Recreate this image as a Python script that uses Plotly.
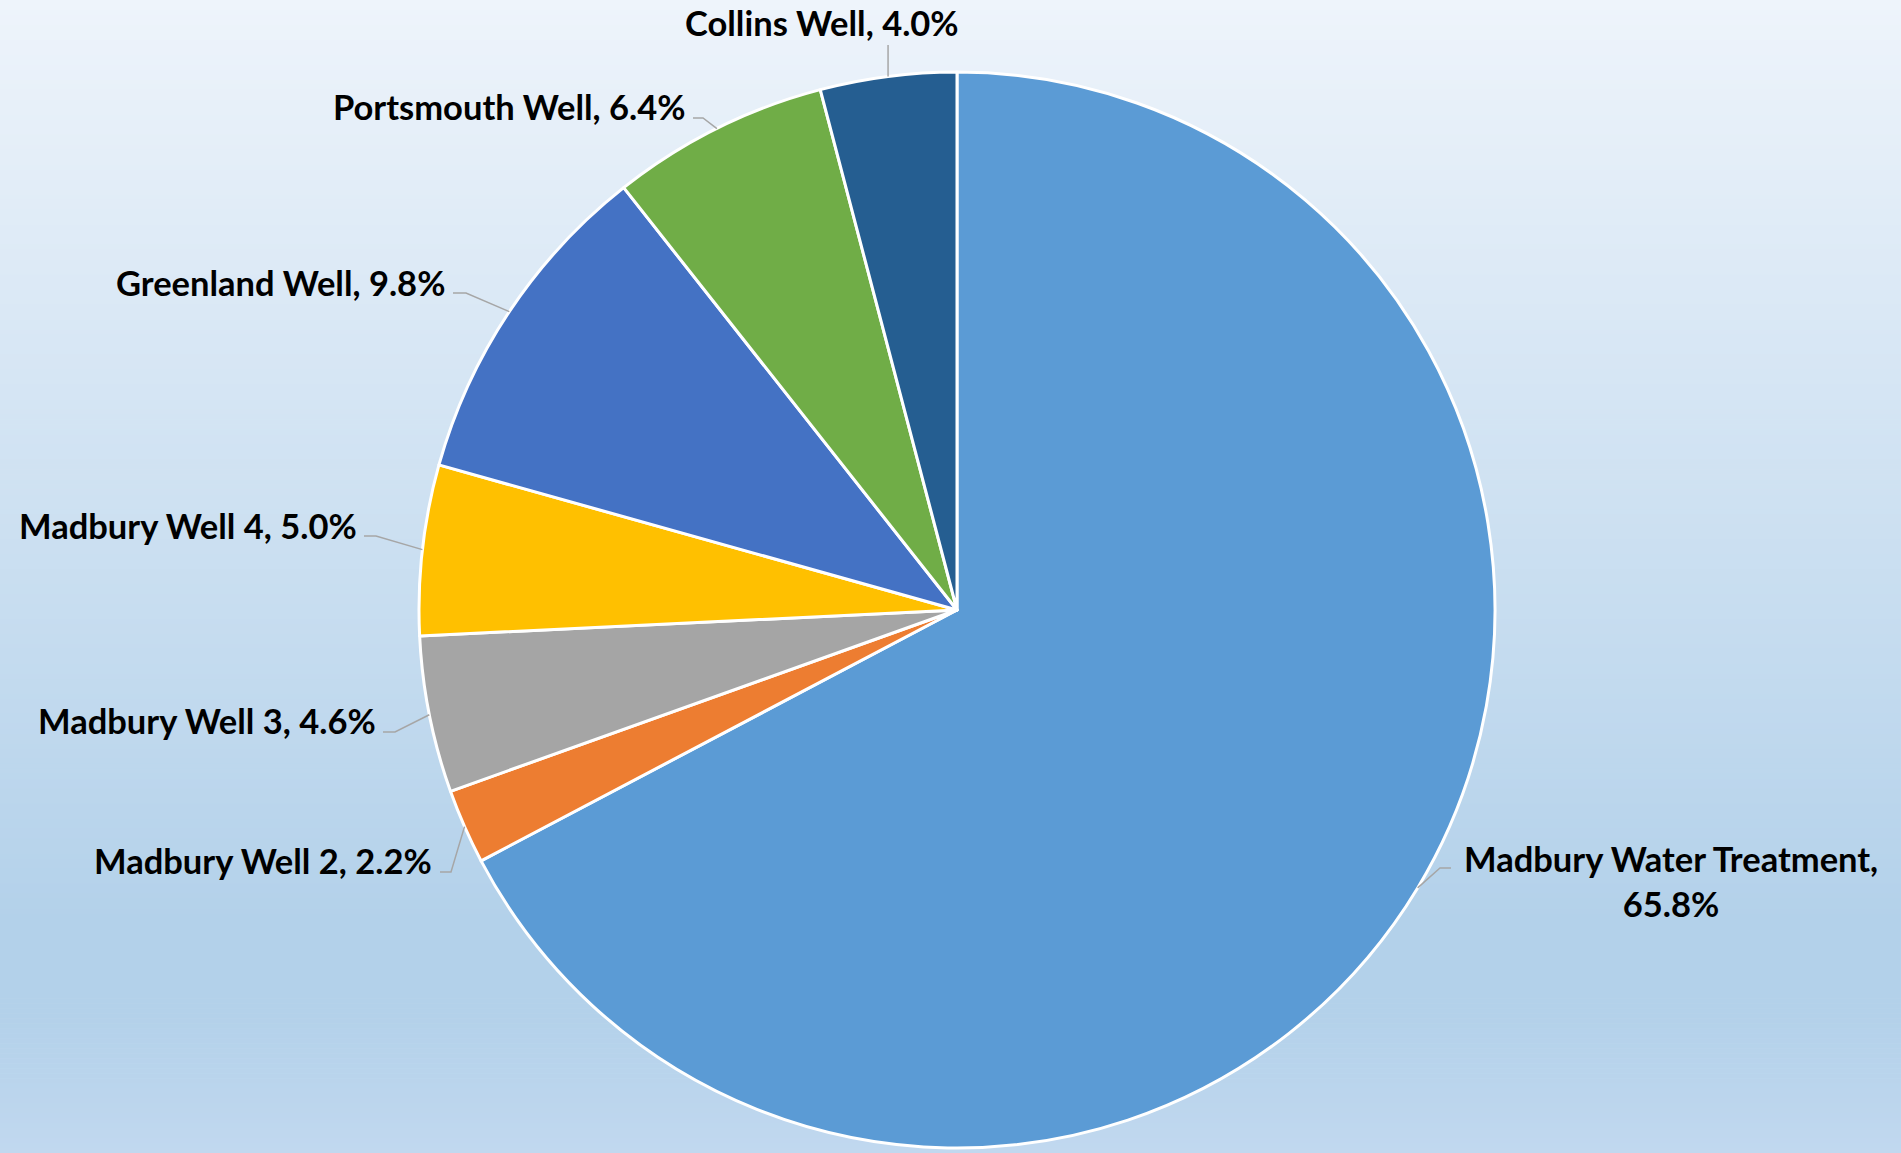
import math
import plotly.graph_objects as go

# ---- data ----
labels = ["Madbury Water Treatment", "Madbury Well 2", "Madbury Well 3", "Madbury Well 4",
          "Greenland Well", "Portsmouth Well", "Collins Well"]
values = [65.8, 2.2, 4.6, 5.0, 9.8, 6.4, 4.0]
colors = ["#5B9BD5", "#ED7D31", "#A5A5A5", "#FFC000", "#4472C4", "#70AD47", "#255E91"]

W, H = 1901, 1153
CX, CY, R = 957.0, 610.0, 538.0


def px(x):
    return x / W


def py(y):
    return 1 - y / H


fig = go.Figure()
fig.add_trace(go.Pie(
    labels=labels, values=values, sort=False, direction="clockwise", rotation=0,
    marker=dict(colors=colors, line=dict(color="white", width=3)),
    textinfo="none", hoverinfo="label+value", showlegend=False,
    domain=dict(x=[px(CX - R), px(CX + R)], y=[py(CY + R), py(CY - R)]),
))

# ---- background gradient (vertical) ----
stops = [(0.0, (238, 244, 251)), (0.80, (179, 209, 234)), (0.88, (179, 209, 234)), (1.0, (193, 216, 239))]


def grad(t):
    for (t0, c0), (t1, c1) in zip(stops[:-1], stops[1:]):
        if t0 <= t <= t1:
            f = (t - t0) / (t1 - t0) if t1 > t0 else 0
            return tuple(round(a + (b - a) * f) for a, b in zip(c0, c1))
    return stops[-1][1]


shapes = []
N = 231
for i in range(N):
    y0 = i * H / N
    y1 = (i + 1) * H / N + 0.6
    c = grad((i + 0.5) / N)
    shapes.append(dict(type="rect", xref="paper", yref="paper", x0=0, x1=1,
                       y0=py(min(y1, H)), y1=py(y0), line=dict(width=0),
                       fillcolor="rgb(%d,%d,%d)" % c, layer="below"))

# ---- label placement (layout positions, pixels) ----
label_pos = {
    "Madbury Water Treatment": dict(x=1671, y=881, xanchor="center", elbow=(1440, 868), end=(1451, 868)),
    "Madbury Well 2": dict(x=434, y=860, xanchor="right", elbow=(451, 872), end=(440, 872)),
    "Madbury Well 3": dict(x=378, y=720, xanchor="right", elbow=(395, 732), end=(383, 732)),
    "Madbury Well 4": dict(x=359, y=525, xanchor="right", elbow=(376, 536), end=(364, 536)),
    "Greenland Well": dict(x=447, y=282, xanchor="right", elbow=(466, 293), end=(453, 293)),
    "Portsmouth Well": dict(x=688, y=107, xanchor="right", elbow=(703, 118), end=(693, 118)),
    "Collins Well": dict(x=822, y=22, xanchor="center", elbow=None, end=(None, 45)),
}

annotations = []
total = sum(values)
cum = 0.0
for lab, v in zip(labels, values):
    mid = (cum + v / 2) / total * 2 * math.pi
    cum += v
    ex = CX + R * math.sin(mid)
    ey = CY - R * math.cos(mid)
    p = label_pos[lab]
    if lab == "Madbury Water Treatment":
        txt = f"{lab},<br>{v:.1f}%"
    else:
        txt = f"{lab}, {v:.1f}%"
    annotations.append(dict(
        x=px(p["x"]), y=py(p["y"]), xref="paper", yref="paper", text=txt,
        showarrow=False, xanchor=p["xanchor"], yanchor="middle", align="center",
        font=dict(family="Lato", size=34.5, color="#000000", weight="bold"),
    ))
    if p["elbow"] is None:
        path = f"M {px(ex)},{py(ey)} L {px(ex)},{py(p['end'][1])}"
    else:
        (bx, by), (nx, ny) = p["elbow"], p["end"]
        path = f"M {px(ex)},{py(ey)} L {px(bx)},{py(by)} L {px(nx)},{py(ny)}"
    shapes.append(dict(type="path", xref="paper", yref="paper", path=path,
                       line=dict(color="#A6A6A6", width=1.5), layer="above"))

fig.update_layout(
    width=W, height=H, margin=dict(l=0, r=0, t=0, b=0),
    paper_bgcolor="#D6E5F4", plot_bgcolor="rgba(0,0,0,0)",
    shapes=shapes, annotations=annotations,
    showlegend=False,
)

fig.write_html("out.html")
